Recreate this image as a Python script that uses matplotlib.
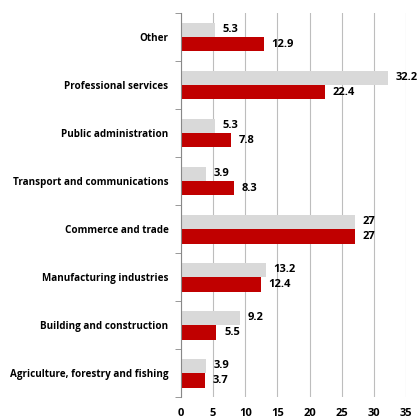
import numpy as np
import matplotlib.pyplot as plt
from matplotlib.ticker import FixedLocator

categories = ["Agriculture, forestry and fishing", "Building and construction",
              "Manufacturing industries", "Commerce and trade",
              "Transport and communications", "Public administration",
              "Professional services", "Other"]
grey_vals = [3.9, 9.2, 13.2, 27, 3.9, 5.3, 32.2, 5.3]
red_vals = [3.7, 5.5, 12.4, 27, 8.3, 7.8, 22.4, 12.9]
xticks = [0, 5, 10, 15, 20, 25, 30, 35]

plt.rcParams['font.family'] = ['Open Sans', 'DejaVu Sans']
plt.rcParams['font.weight'] = 'bold'

fig = plt.figure(figsize=(4.19, 4.19), dpi=100)
ax = fig.add_axes([0.432, 0.052, 0.537, 0.917])

y = np.arange(len(categories))
h = 0.3
ax.barh(y + h / 2, grey_vals, height=h, color='#d9d9d9', zorder=2)
ax.barh(y - h / 2, red_vals, height=h, color='#c00000', zorder=2)

def fmt(v):
    return f"{v:g}"

for yi, g, r in zip(y, grey_vals, red_vals):
    ax.annotate(fmt(g), (g, yi + h / 2), xytext=(5.5, 0), textcoords='offset points',
                va='center', ha='left', fontsize=8, fontweight='bold', annotation_clip=False)
    ax.annotate(fmt(r), (r, yi - h / 2), xytext=(5.5, 0), textcoords='offset points',
                va='center', ha='left', fontsize=8, fontweight='bold', annotation_clip=False)

ax.set_xlim(0, 35)
ax.set_ylim(-0.5, len(categories) - 0.5)
ax.set_xticks(xticks)
ax.set_xticklabels([str(t) for t in xticks], fontsize=8, fontweight='bold')
ax.tick_params(axis='x', length=0, pad=8)
ax.set_yticks(y)
ax.set_yticklabels(categories, fontsize=7.1, fontweight='bold')
ax.tick_params(axis='y', which='major', length=0, pad=9)
ax.yaxis.set_minor_locator(FixedLocator(np.arange(-0.5, len(categories), 1)))
ax.tick_params(axis='y', which='minor', length=4, color='#888888')

ax.grid(axis='x', color='#bdbdbd', linewidth=0.8, zorder=0)
for s in ['top', 'right', 'bottom']:
    ax.spines[s].set_visible(False)
ax.spines['left'].set_color('#888888')
ax.spines['left'].set_zorder(3)

fig.savefig('out.png', dpi=100)
